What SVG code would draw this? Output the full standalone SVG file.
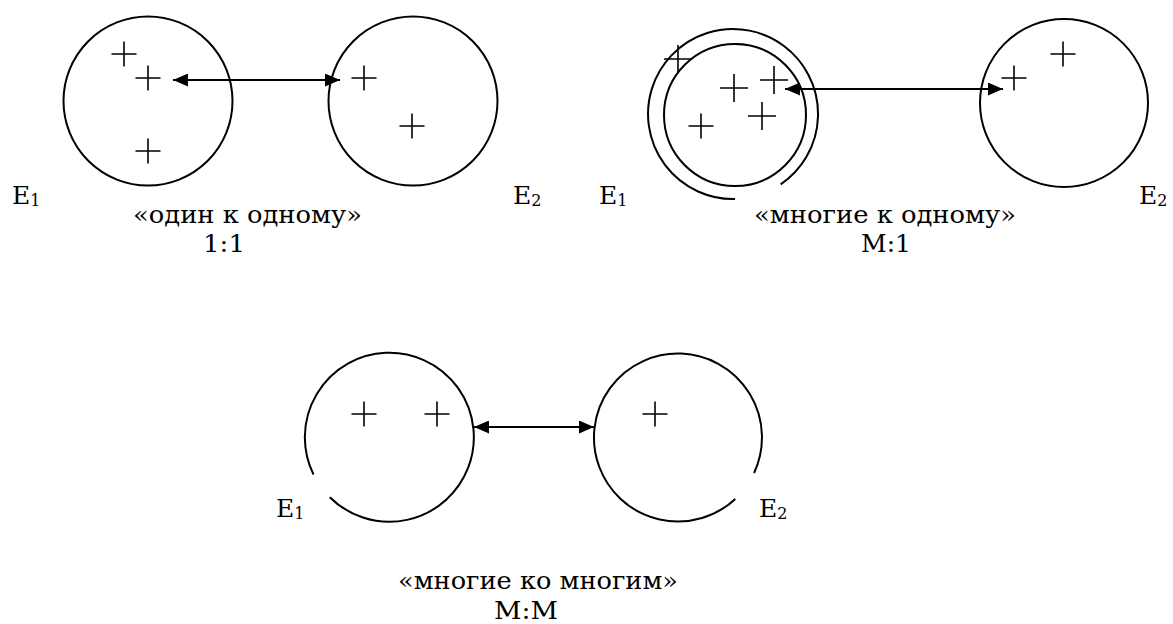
<svg xmlns="http://www.w3.org/2000/svg" xmlns:xlink="http://www.w3.org/1999/xlink" width="1173" height="624" viewBox="0 0 1173 624">
<style>
.c{fill:none;stroke:#000;stroke-width:2}
.p{fill:none;stroke:#000;stroke-width:1.6}
.a{fill:none;stroke:#000;stroke-width:2.2}
text{font-family:'DejaVu Serif','Liberation Serif',serif;font-size:25px;fill:#000}
.s{font-size:16px}
</style>
<defs>
<marker id="ah" viewBox="0 0 15 13" markerWidth="15" markerHeight="13" refX="15" refY="6.5" orient="auto-start-reverse" markerUnits="userSpaceOnUse"><path d="M0,0L15,6.5L0,13z" fill="#000"/></marker>
<path id="pl" d="M-12.5,0H12.5M0,-12.5V12.5"/>
<path id="pl2" d="M-14,0H14M0,-14V14"/>
</defs>
<rect width="1173" height="624" fill="#fff"/>
<g id="p1-e1">
<circle class="c" cx="148" cy="101" r="84.5"/>
<g class="p"><use xlink:href="#pl" x="124" y="54"/><use xlink:href="#pl" x="148" y="78"/><use xlink:href="#pl" x="148" y="151"/></g>
<text x="12" y="204">E<tspan class="s" dy="2">1</tspan></text>
</g>
<g id="p1-e2">
<circle class="c" cx="413" cy="101" r="84.5"/>
<g class="p"><use xlink:href="#pl" x="364" y="78"/><use xlink:href="#pl" x="412" y="126"/></g>
<text x="513" y="204">E<tspan class="s" dy="2">2</tspan></text>
</g>
<g id="p1-label">
<text x="133" y="223" textLength="229" lengthAdjust="spacingAndGlyphs">«один к одному»</text>
<text x="203" y="252" textLength="42" lengthAdjust="spacingAndGlyphs">1:1</text>
</g>
<g id="p2-e1">
<path class="c" d="M735,199A85,85 0 1 1 780.7,184.4"/>
<circle class="c" cx="735" cy="115" r="71"/>
<g class="p"><use xlink:href="#pl2" x="678" y="59"/><use xlink:href="#pl2" x="734" y="88"/><use xlink:href="#pl2" x="774" y="80"/><use xlink:href="#pl2" x="762" y="116"/><use xlink:href="#pl" x="701" y="126"/></g>
<text x="599" y="204">E<tspan class="s" dy="2">1</tspan></text>
</g>
<g id="p2-e2">
<circle class="c" cx="1064" cy="103" r="84"/>
<g class="p"><use xlink:href="#pl" x="1014" y="78"/><use xlink:href="#pl" x="1063" y="54"/></g>
<text x="1139" y="204">E<tspan class="s" dy="2">2</tspan></text>
</g>
<g id="p2-label">
<text x="754" y="223" textLength="262" lengthAdjust="spacingAndGlyphs">«многие к одному»</text>
<text x="886" y="252" text-anchor="middle">M:1</text>
</g>
<g id="p3-e1">
<path class="c" d="M313.5,474.5A84.5,84.5 0 1 1 329.8,497.2"/>
<g class="p"><use xlink:href="#pl" x="364" y="414"/><use xlink:href="#pl" x="437" y="414"/></g>
<text x="276" y="517">E<tspan class="s" dy="2">1</tspan></text>
</g>
<g id="p3-e2">
<path class="c" d="M735.3,498.9A84,84 0 1 1 754.1,473"/>
<g class="p"><use xlink:href="#pl" x="655" y="414"/></g>
<text x="759" y="517">E<tspan class="s" dy="2">2</tspan></text>
</g>
<g id="p3-label">
<text x="398" y="589" textLength="280" lengthAdjust="spacingAndGlyphs">«многие ко многим»</text>
<text x="494" y="619" textLength="64" lengthAdjust="spacingAndGlyphs">M:M</text>
</g>
<g id="connectors">
<line class="a" x1="173" y1="80" x2="340" y2="80" marker-start="url(#ah)" marker-end="url(#ah)"/>
<line class="a" x1="785" y1="89" x2="1003" y2="89" marker-start="url(#ah)" marker-end="url(#ah)"/>
<line class="a" x1="474" y1="427" x2="594" y2="427" marker-start="url(#ah)" marker-end="url(#ah)"/>
</g>
</svg>
